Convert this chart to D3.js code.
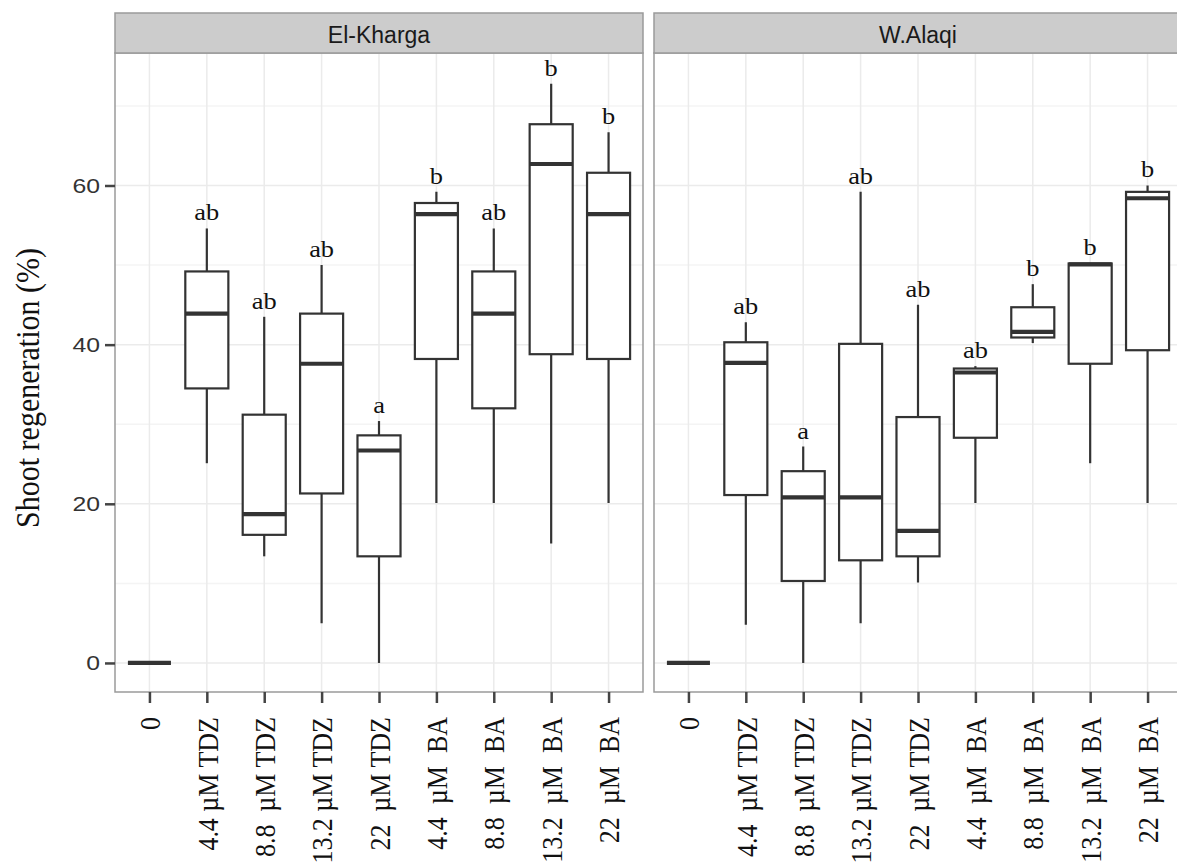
<!DOCTYPE html>
<html>
<head>
<meta charset="utf-8">
<script src="https://cdn.jsdelivr.net/npm/d3@7"></script>
<style>
  body { margin: 0; background: #fff; }
  svg { display: block; }
  .xlab text { white-space: pre; }
</style>
</head>
<body>
<div id="chart"></div>
<script>
// treatments, same order in both facets
const treatments = ["c0", "t44", "t88", "t132", "t22", "b44", "b88", "b132", "b22"]
const khargaTicks = ["0", "4.4 µM TDZ", "8.8  µM TDZ", "13.2 µM TDZ", "22  µM TDZ", "4.4  µM  BA", "8.8  µM  BA", "13.2  µM  BA", "22  µM  BA"]
const alaqiTicks = ["0", "4.4  µM TDZ", "8.8  µM TDZ", "13.2 µM TDZ", "22  µM TDZ", "4.4  µM  BA", "8.8  µM  BA", "13.2  µM  BA", "22  µM  BA"]
const yTicks = [0, 20, 40, 60]

// El-Kharga box stats
const khargaLow  = [0, 25.1, 13.4, 5.0, 0, 20.1, 20.1, 15.0, 20.1]
const khargaQ1   = [0, 34.5, 16.1, 21.3, 13.4, 38.2, 32.0, 38.8, 38.2]
const khargaMed  = [0, 43.9, 18.7, 37.6, 26.7, 56.4, 43.9, 62.7, 56.4]
const khargaQ3   = [0, 49.2, 31.2, 43.9, 28.6, 57.8, 49.2, 67.7, 61.6]
const khargaHigh = [0, 54.6, 43.5, 50.0, 30.4, 59.2, 54.6, 72.8, 66.7]
const khargaLetters = ["", "ab", "ab", "ab", "a", "b", "ab", "b", "b"]

// W.Alaqi box stats
const alaqiLow  = [0, 4.8, 0, 5.0, 10.1, 20.1, 40.2, 25.1, 20.1]
const alaqiQ1   = [0, 21.1, 10.3, 12.9, 13.4, 28.3, 40.9, 37.6, 39.3]
const alaqiMed  = [0, 37.7, 20.8, 20.8, 16.6, 36.5, 41.6, 50.1, 58.4]
const alaqiQ3   = [0, 40.3, 24.1, 40.1, 30.9, 37.0, 44.7, 50.2, 59.2]
const alaqiHigh = [0, 42.8, 27.2, 59.2, 45.0, 37.3, 47.6, 50.2, 60.0]
const alaqiLetters = ["", "ab", "a", "ab", "ab", "ab", "b", "b", "b"]

const width = 1177, height = 863
const panelTop = 53, panelBottom = 692, stripTop = 13
const panelW = 528
const lineCol = "#333333"
const serif = "'Liberation Serif', 'Times New Roman', serif"
const sans = "'Liberation Sans', Arial, sans-serif"

const svg = d3.select("#chart").append("svg")
    .attr("width", width)
    .attr("height", height)

const yScale = d3.scaleLinear()
    .domain([-3.65, 76.65])
    .range([panelBottom, panelTop])

function rows(low, q1, med, q3, high, letters){
    return treatments.map((t, i) => ({key: t, low: low[i], q1: q1[i], med: med[i], q3: q3[i], high: high[i], letter: letters[i]}))
}

function panel(left, title, data, tickLabels, showY){

    const xScale = d3.scalePoint()
        .domain(treatments)
        .range([left, left + panelW])
        .padding(0.6)
    const step = xScale.step()
    const bw = step * 0.75

    const g = svg.append("g")

    // background + grid
    g.append("rect")
        .attr("x", left).attr("y", panelTop)
        .attr("width", panelW).attr("height", panelBottom - panelTop)
        .attr("fill", "#fff")

    g.selectAll(".minor")
        .data([10, 30, 50, 70])
        .enter().append("line")
        .attr("x1", left).attr("x2", left + panelW)
        .attr("y1", d => yScale(d)).attr("y2", d => yScale(d))
        .attr("stroke", "#f4f4f4").attr("stroke-width", 1.5)

    g.selectAll(".hmajor")
        .data(yTicks)
        .enter().append("line")
        .attr("x1", left).attr("x2", left + panelW)
        .attr("y1", d => yScale(d)).attr("y2", d => yScale(d))
        .attr("stroke", "#ebebeb").attr("stroke-width", 1.5)

    g.selectAll(".vmajor")
        .data(treatments)
        .enter().append("line")
        .attr("x1", d => xScale(d)).attr("x2", d => xScale(d))
        .attr("y1", panelTop).attr("y2", panelBottom)
        .attr("stroke", "#ebebeb").attr("stroke-width", 1.5)

    // whiskers
    g.selectAll(".whisk")
        .data(data)
        .enter().append("line")
        .attr("x1", d => xScale(d.key)).attr("x2", d => xScale(d.key))
        .attr("y1", d => yScale(d.low)).attr("y2", d => yScale(d.high))
        .attr("stroke", lineCol).attr("stroke-width", 2.2)

    // boxes
    g.selectAll(".box")
        .data(data)
        .enter().append("rect")
        .attr("x", d => xScale(d.key) - bw / 2)
        .attr("y", d => yScale(d.q3))
        .attr("width", bw)
        .attr("height", d => yScale(d.q1) - yScale(d.q3))
        .attr("fill", "#fff")
        .attr("stroke", lineCol).attr("stroke-width", 2.2)

    // medians
    g.selectAll(".med")
        .data(data)
        .enter().append("line")
        .attr("x1", d => xScale(d.key) - bw / 2).attr("x2", d => xScale(d.key) + bw / 2)
        .attr("y1", d => yScale(d.med)).attr("y2", d => yScale(d.med))
        .attr("stroke", lineCol).attr("stroke-width", 4.2)

    // letters
    g.selectAll(".letter")
        .data(data)
        .enter().append("text")
        .attr("transform", d => `translate(${xScale(d.key)}, ${yScale(d.high) - 8}) scale(1.1, 1)`)
        .attr("text-anchor", "middle")
        .attr("font-family", serif)
        .attr("font-size", 24)
        .attr("fill", "#111")
        .text(d => d.letter)

    // border
    g.append("rect")
        .attr("x", left).attr("y", panelTop)
        .attr("width", panelW).attr("height", panelBottom - panelTop)
        .attr("fill", "none")
        .attr("stroke", "#9a9a9a").attr("stroke-width", 1.5)

    // strip
    g.append("rect")
        .attr("x", left).attr("y", stripTop)
        .attr("width", panelW).attr("height", panelTop - stripTop)
        .attr("fill", "#cccccc")
        .attr("stroke", "#9a9a9a").attr("stroke-width", 1.5)
    g.append("text")
        .attr("x", left + panelW / 2)
        .attr("y", 43)
        .attr("text-anchor", "middle")
        .attr("font-family", sans)
        .attr("font-size", 23)
        .attr("fill", "#1a1a1a")
        .text(title)

    // x axis
    const xAxis = d3.axisBottom(xScale)
        .tickSize(11)
        .tickFormat((d, i) => tickLabels[i])
    const xg = svg.append("g")
        .attr("class", "xlab")
        .attr("transform", `translate(0, ${panelBottom})`)
        .call(xAxis)
    xg.select(".domain").remove()
    xg.selectAll(".tick line").attr("stroke", "#444").attr("stroke-width", 2.5)
    xg.selectAll(".tick text")
        .attr("font-family", serif)
        .attr("font-size", 26)
        .attr("fill", "#111")
        .attr("text-anchor", "end")
        .attr("transform", "rotate(-90) scale(1, 1.12)")
        .attr("x", -25)
        .attr("y", 0)
        .attr("dy", "0.35em")

    if (showY){
        const yAxis = d3.axisLeft(yScale)
            .tickValues(yTicks)
            .tickSize(10)
            .tickPadding(5)
        const yg = svg.append("g")
            .attr("transform", `translate(${left}, 0)`)
            .call(yAxis)
        yg.select(".domain").remove()
        yg.selectAll(".tick line").attr("stroke", "#444").attr("stroke-width", 2.5)
        yg.selectAll(".tick text")
            .attr("font-family", sans)
            .attr("font-size", 21)
            .attr("fill", "#333")
            .attr("x", 0)
            .attr("transform", "translate(-15, 0) scale(1.18, 1)")
    }
}

panel(115, "El-Kharga", rows(khargaLow, khargaQ1, khargaMed, khargaQ3, khargaHigh, khargaLetters), khargaTicks, true)
panel(654, "W.Alaqi", rows(alaqiLow, alaqiQ1, alaqiMed, alaqiQ3, alaqiHigh, alaqiLetters), alaqiTicks, false)

svg.append("text")
    .attr("transform", "translate(39, 388) rotate(-90) scale(1, 1.15)")
    .attr("text-anchor", "middle")
    .attr("font-family", serif)
    .attr("font-size", 30)
    .attr("fill", "#111")
    .text("Shoot regeneration (%)")
</script>
</body>
</html>
